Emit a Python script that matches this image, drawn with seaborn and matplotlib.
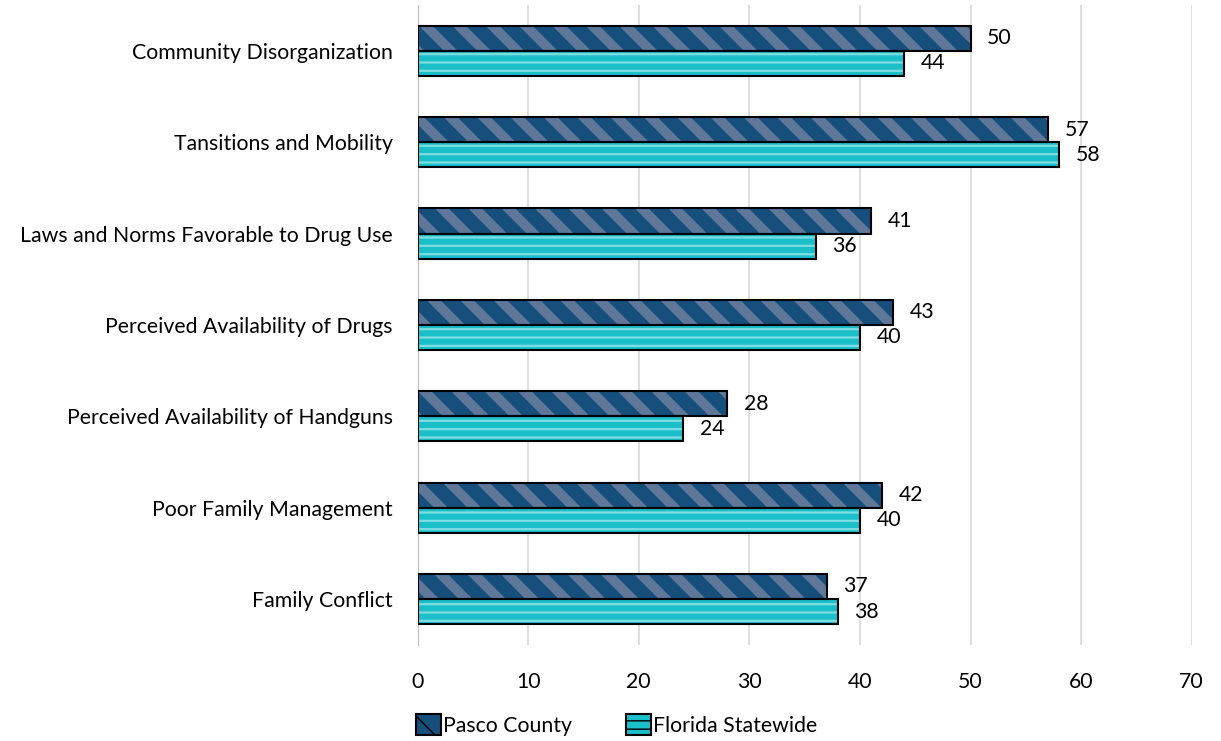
import pandas as pd
import numpy as np
import seaborn as sns
import matplotlib.pyplot as plt
from matplotlib.patches import Patch

categories = ['Community Disorganization', 'Tansitions and Mobility',
              'Laws and Norms Favorable to Drug Use', 'Perceived Availability of Drugs',
              'Perceived Availability of Handguns', 'Poor Family Management',
              'Family Conflict']
pasco = [50, 57, 41, 43, 28, 42, 37]
florida = [44, 58, 36, 40, 24, 40, 38]
series = ['Pasco County', 'Florida Statewide']

df = pd.DataFrame({
    'category': categories * 2,
    'value': pasco + florida,
    'series': [series[0]] * len(categories) + [series[1]] * len(categories),
})

sns.set_style('white')
plt.rcParams['font.family'] = ['Lato', 'DejaVu Sans']
plt.rcParams['text.color'] = 'black'
plt.rcParams['xtick.color'] = 'black'
plt.rcParams['ytick.color'] = 'black'

fig = plt.figure(figsize=(12.21, 7.41), dpi=100)
ax = fig.add_axes([0.342, 0.13, 0.634, 0.863])

colors = {series[0]: '#164F7B', series[1]: '#1BBFCA'}
hatch_col = {series[0]: '#5F7799', series[1]: '#7FDCE0'}
hatches = {series[0]: '\\', series[1]: '--'}
hatch_lw = {series[0]: 7.0, series[1]: 1.6}

sns.barplot(data=df, y='category', x='value', hue='series', palette=colors,
            width=0.55, orient='h', ax=ax, legend=False, saturation=1)

for cont, s in zip(ax.containers, series):
    for bar in cont:
        bar.set_hatch(hatches[s])
        bar.set_edgecolor(hatch_col[s])
        bar.set_linewidth(0)
        try:
            bar.set_hatch_linewidth(hatch_lw[s])
        except AttributeError:
            pass
        x, y = bar.get_xy()
        ax.add_patch(plt.Rectangle((x, y), bar.get_width(), bar.get_height(),
                                   fill=False, edgecolor='black', linewidth=1.5, zorder=3))
    ax.bar_label(cont, labels=[f'{v:g}' for v in cont.datavalues], padding=12, fontsize=15.3)

ax.set_xlim(0, 70)
ax.set_ylim(6.5, -0.5)
ax.set_xticks(range(0, 71, 10))
ax.xaxis.grid(True, color='#D9D9D9', linewidth=1.2)
ax.set_axisbelow(True)
ax.tick_params(axis='x', labelsize=15.3, length=0, pad=20)
ax.tick_params(axis='y', labelsize=15.3, length=0, pad=18)
ax.set_xlabel('')
ax.set_ylabel('')
for side in ['top', 'right', 'bottom']:
    ax.spines[side].set_visible(False)
ax.spines['left'].set_color('#BFBFBF')

handles = []
for s in series:
    p = Patch(facecolor=colors[s], edgecolor='black', hatch=hatches[s], linewidth=1.5)
    handles.append(p)
leg = fig.legend(handles, series, loc='center', bbox_to_anchor=(0.505, 0.022),
                 ncol=2, frameon=False, fontsize=15.3, handlelength=1.2, handleheight=1.2,
                 handletextpad=0.1, columnspacing=2.5)

fig.savefig('out.png', dpi=100)
